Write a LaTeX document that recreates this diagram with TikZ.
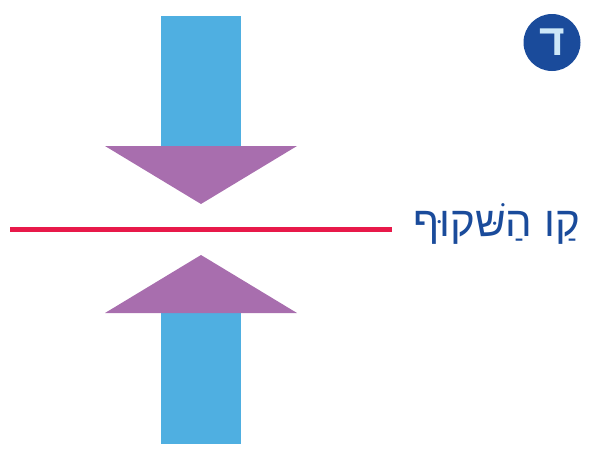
\documentclass[tikz,border=0pt]{standalone}
\usepackage{fontspec}
\newfontfamily\hebfont[Script=Hebrew]{Liberation Sans}
\TeXXeTstate=1
\definecolor{barblue}{HTML}{4FAFE1}
\definecolor{arrowpurple}{HTML}{A86EAE}
\definecolor{linered}{HTML}{E8194A}
\definecolor{darkblue}{HTML}{1A4B9B}
\definecolor{paleblue}{HTML}{CDE8F8}
\begin{document}
\begin{tikzpicture}[x=1pt,y=-1pt,bar/.style={fill=barblue},head/.style={fill=arrowpurple},label/.style={text=darkblue,font=\hebfont\fontsize{42}{48}\selectfont,inner sep=0pt},badge/.style={circle,fill=darkblue,text=paleblue,minimum size=57pt,inner sep=0pt,font=\hebfont\bfseries\fontsize{44}{50}\selectfont}]
\useasboundingbox (0,0) rectangle (589,450);
% upper arrow
\fill[bar] (161,16) rectangle (241,150);
\fill[head] (105,146) -- (297,146) -- (201,204) -- cycle;
% lower arrow
\fill[bar] (161,310) rectangle (241,444);
\fill[head] (105,313) -- (297,313) -- (201,255) -- cycle;
% line and text
\node[label,anchor=base east] (name) at (580,236) {\beginR קַו הַשּׁקוּף\endR};
\coordinate (start) at (10,229.5);
\draw[linered,line width=4.8pt] (start) -- (392,229.5);
\node[badge] (letter) at (552,42.5) {\beginR ד\endR};
\end{tikzpicture}
\end{document}
